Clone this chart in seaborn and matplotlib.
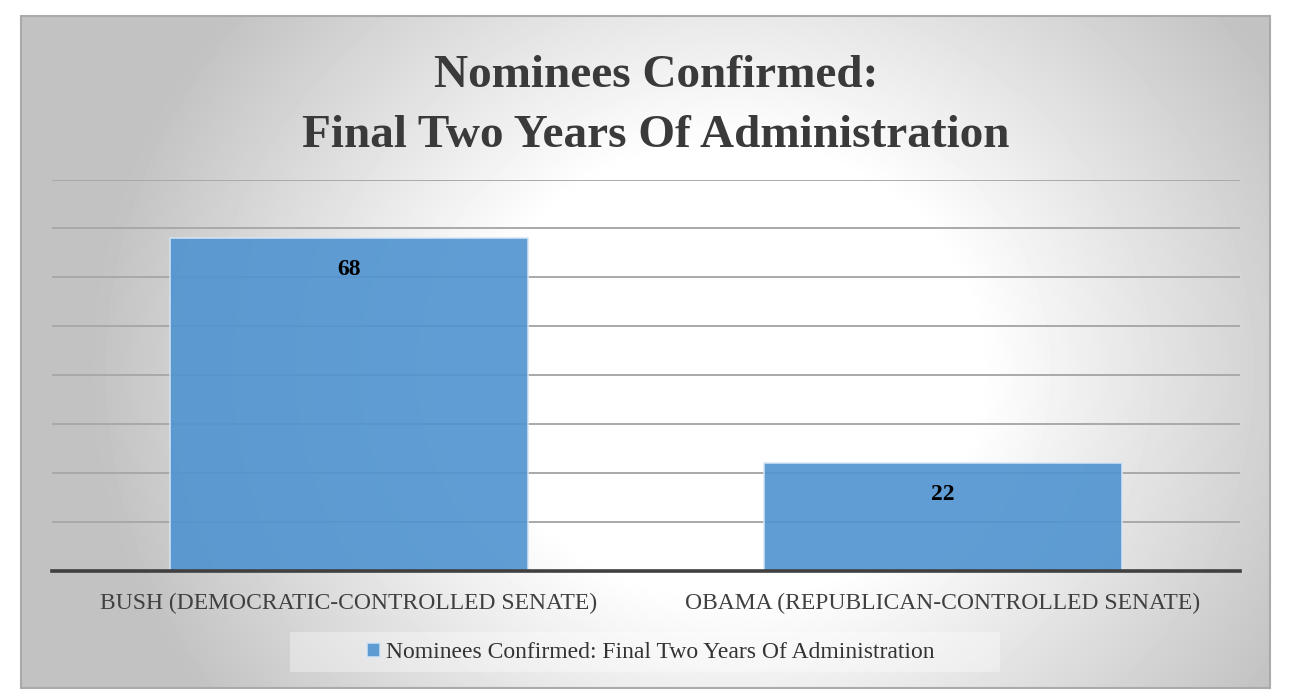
import numpy as np
import pandas as pd
import matplotlib
matplotlib.use('Agg')
import matplotlib.pyplot as plt
import seaborn as sns
from matplotlib.patches import Rectangle

# ---- data ----
categories = ['BUSH (DEMOCRATIC-CONTROLLED SENATE)', 'OBAMA (REPUBLICAN-CONTROLLED SENATE)']
values = [68, 22]
series_name = 'Nominees Confirmed: Final Two Years Of Administration'
title_lines = ['Nominees Confirmed:', 'Final Two Years Of Administration']
y_ticks = list(range(0, 81, 10))

df = pd.DataFrame({'category': categories, 'value': values, 'series': series_name})

sns.set_theme(style='white')
plt.rcParams['font.family'] = ['Liberation Serif', 'DejaVu Serif']

W, H = 1294, 696
fig = plt.figure(figsize=(W / 100, H / 100), dpi=100)
fig.patch.set_facecolor('white')

# ---- background with radial gradient inside a frame ----
bg = fig.add_axes([0, 0, 1, 1], zorder=-10)
yy, xx = np.mgrid[0:H, 0:W]
d = np.hypot((xx - 730) / 1.0, (yy - 370) / 0.9)
t = np.clip((d - 250) / 390, 0, 1)
g = 1 - 0.24 * t
fx0, fy0, fx1, fy1 = 21, 16, 1270, 688
img = np.ones((H, W))
mask = (xx >= fx0) & (xx <= fx1) & (yy >= fy0) & (yy <= fy1)
img[mask] = g[mask]
bg.imshow(img, cmap='gray', vmin=0, vmax=1, extent=[0, W, H, 0], aspect='auto',
          interpolation='bilinear')
bg.add_patch(Rectangle((fx0, fy0), fx1 - fx0, fy1 - fy0, fill=False,
                       edgecolor='#aaaaaa', lw=1.5))
# lighter legend area
bg.add_patch(Rectangle((290, 632), 710, 40, facecolor='white', alpha=0.35,
                       edgecolor='none'))
bg.set_xlim(0, W)
bg.set_ylim(H, 0)
bg.axis('off')

# ---- main axes ----
ax_l, ax_r, ax_b, ax_t = 52, 1240, 570.7, 179.5
ax = fig.add_axes([ax_l / W, 1 - ax_b / H, (ax_r - ax_l) / W, (ax_b - ax_t) / H])
ax.patch.set_alpha(0)

sns.barplot(data=df, x='category', y='value', hue='series', palette=['#4e93d0'],
            width=0.604, saturation=1, edgecolor='#d6e6f5', linewidth=1.2,
            alpha=0.9, ax=ax)

ax.set_ylim(0, 80)
ax.set_yticks(y_ticks)
ax.yaxis.grid(True, color='#a9a9a9', lw=1.4)
ax.set_axisbelow(True)
ax.tick_params(axis='y', left=False, labelleft=False)
ax.tick_params(axis='x', bottom=False, pad=10, labelsize=17, labelcolor='#404040')
ax.set_xlabel('')
ax.set_ylabel('')
for s in ['left', 'top', 'right']:
    ax.spines[s].set_visible(False)
ax.spines['bottom'].set_color('#404040')
ax.spines['bottom'].set_linewidth(2.6)

for bar, v in zip(ax.containers[0], values):
    ax.annotate(f'{v}', (bar.get_x() + bar.get_width() / 2, bar.get_height()),
                xytext=(0, -22.5), textcoords='offset points', ha='center', va='center',
                fontsize=17, fontweight='bold', color='black')

# ---- legend ----
handles, labels = ax.get_legend_handles_labels()
if ax.get_legend() is not None:
    ax.get_legend().remove()
fig.legend(handles, labels, loc='center', bbox_to_anchor=(651 / W, 1 - 653 / H),
           frameon=False, fontsize=17, handlelength=0.55, handleheight=0.55,
           handletextpad=0.25, labelcolor='#333333')

# ---- title ----
fig.text(656 / W, 1 - 87 / H, title_lines[0], ha='center', va='baseline',
         fontsize=34, fontweight='bold', color='#3a3a3a')
fig.text(656 / W, 1 - 147 / H, title_lines[1], ha='center', va='baseline',
         fontsize=34, fontweight='bold', color='#3a3a3a')

fig.savefig('out.png', dpi=100)
